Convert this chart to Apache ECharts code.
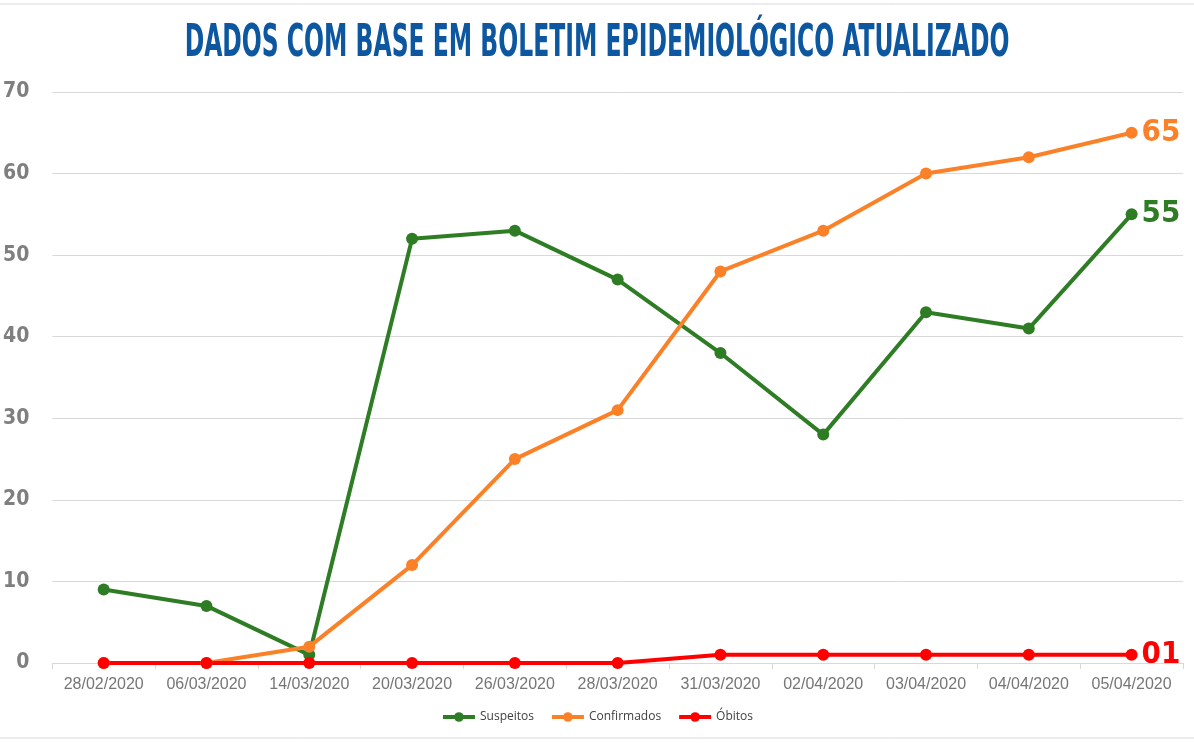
<!DOCTYPE html>
<html>
<head>
<meta charset="utf-8">
<script src="https://cdn.jsdelivr.net/npm/echarts@6/dist/echarts.min.js"></script>
<style>
html, body { margin: 0; padding: 0; background: #fff; }
#chart { width: 1194px; height: 743px; }
</style>
</head>
<body>
<div id="chart"></div>
<script>
var datas = ['28/02/2020', '06/03/2020', '14/03/2020', '20/03/2020', '26/03/2020', '28/03/2020',
  '31/03/2020', '02/04/2020', '03/04/2020', '04/04/2020', '05/04/2020'];
var suspeitos = [9, 7, 1, 52, 53, 47, 38, 28, 43, 41, 55];
var confirmados = [0, 0, 2, 12, 25, 31, 48, 53, 60, 62, 65];
var obitos = [0, 0, 0, 0, 0, 0, 1, 1, 1, 1, 1];

var condensed = '"DejaVu Sans Condensed", "Liberation Sans Narrow", "Roboto", sans-serif';

var chart = echarts.init(document.getElementById('chart'));

function serie(nome, cor, valores, pad) {
  return {
    name: nome,
    type: 'line',
    data: valores,
    symbol: 'circle',
    symbolSize: 12,
    lineStyle: { width: 4, color: cor },
    itemStyle: { color: cor },
    endLabel: {
      show: true,
      distance: 10,
      color: cor,
      fontFamily: condensed,
      fontWeight: 'bold',
      fontSize: 31,
      formatter: function (p) {
        var v = String(p.value);
        return pad && v.length < 2 ? '0' + v : v;
      }
    }
  };
}

var option = {
  backgroundColor: '#fff',
  animation: false,
  graphic: [
    {
      type: 'text',
      x: 597,
      y: 44,
      scaleX: 0.58,
      style: {
        text: 'DADOS COM BASE EM BOLETIM EPIDEMIOLÓGICO ATUALIZADO',
        fill: '#0c57a0',
        font: 'bold 45px ' + condensed,
        align: 'center',
        verticalAlign: 'middle'
      }
    },
    { type: 'line', shape: { x1: 0, y1: 4, x2: 1194, y2: 4 }, style: { stroke: '#d9d9d9', lineWidth: 1 } },
    { type: 'line', shape: { x1: 0, y1: 738, x2: 1194, y2: 738 }, style: { stroke: '#d9d9d9', lineWidth: 1 } }
  ],
  grid: { left: 50, right: 11, top: 92, bottom: 80, containLabel: false },
  legend: {
    bottom: 15,
    left: 'center',
    itemWidth: 32,
    itemHeight: 12,
    itemGap: 16,
    lineStyle: { width: 4 },
    textStyle: { color: '#404040', fontSize: 12, fontFamily: 'Open Sans, sans-serif' },
    data: ['Suspeitos', 'Confirmados', 'Óbitos']
  },
  xAxis: {
    type: 'category',
    data: datas,
    boundaryGap: true,
    axisLine: { lineStyle: { color: '#d9d9d9' } },
    axisTick: { show: true, length: 6, lineStyle: { color: '#d9d9d9' } },
    axisLabel: { interval: 0, color: '#767676', fontSize: 16, fontFamily: 'Liberation Sans, Arial, sans-serif', margin: 14 }
  },
  yAxis: {
    type: 'value',
    min: 0,
    max: 70,
    interval: 10,
    axisLine: { show: false },
    axisTick: { show: false },
    splitLine: { lineStyle: { color: '#d9d9d9' } },
    axisLabel: { color: '#7f7f7f', fontSize: 21, fontWeight: 'bold', fontFamily: condensed, margin: 23 }
  },
  series: [
    serie('Suspeitos', '#2e7d25', suspeitos, false),
    serie('Confirmados', '#fb8128', confirmados, false),
    serie('Óbitos', '#fe0000', obitos, true)
  ]
};

chart.setOption(option);
</script>
</body>
</html>
